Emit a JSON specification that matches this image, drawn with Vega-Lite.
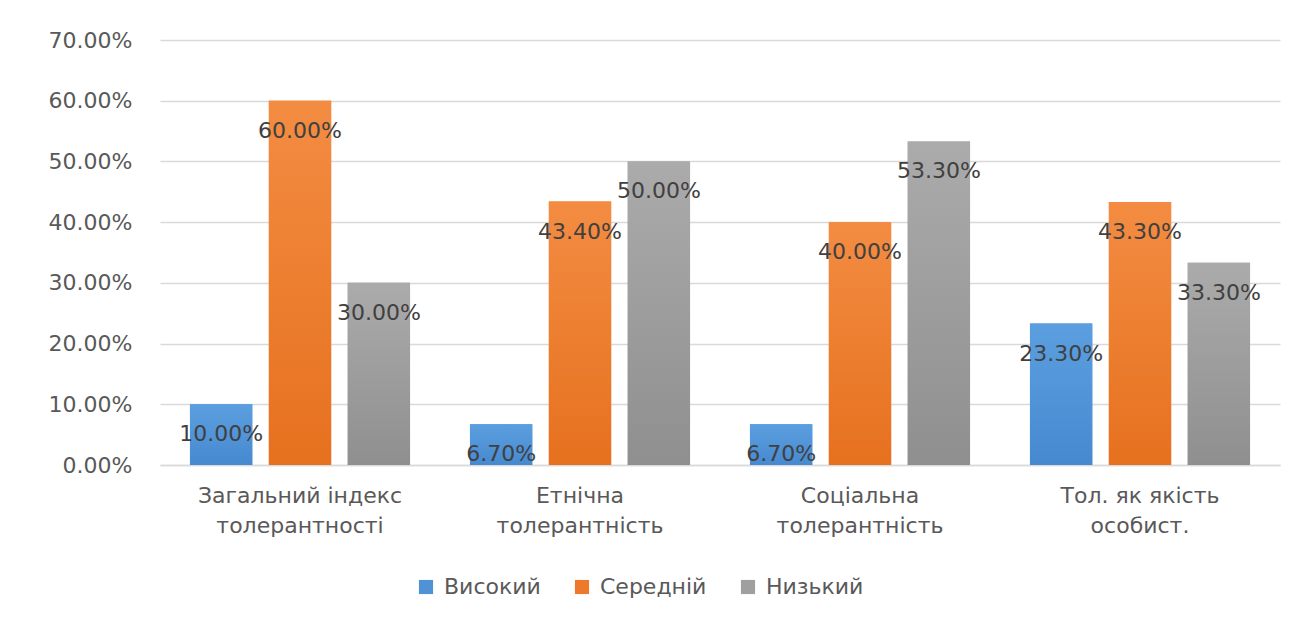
{
  "$schema": "https://vega.github.io/schema/vega-lite/v6.json",
  "autosize": {"type": "none"},
  "width": 1120,
  "height": 425,
  "padding": {"left": 160, "top": 40, "right": 26, "bottom": 160},
  "background": "white",
  "config": {
    "view": {"stroke": null},
    "font": "DejaVu Sans"
  },
  "data": {
    "values": [
      {"category": "Загальний індекс|толерантності", "level": "Високий", "value": 0.10},
      {"category": "Загальний індекс|толерантності", "level": "Середній", "value": 0.60},
      {"category": "Загальний індекс|толерантності", "level": "Низький", "value": 0.30},
      {"category": "Етнічна|толерантність", "level": "Високий", "value": 0.067},
      {"category": "Етнічна|толерантність", "level": "Середній", "value": 0.434},
      {"category": "Етнічна|толерантність", "level": "Низький", "value": 0.50},
      {"category": "Соціальна|толерантність", "level": "Високий", "value": 0.067},
      {"category": "Соціальна|толерантність", "level": "Середній", "value": 0.40},
      {"category": "Соціальна|толерантність", "level": "Низький", "value": 0.533},
      {"category": "Тол. як якість|особист.", "level": "Високий", "value": 0.233},
      {"category": "Тол. як якість|особист.", "level": "Середній", "value": 0.433},
      {"category": "Тол. як якість|особист.", "level": "Низький", "value": 0.333}
    ]
  },
  "encoding": {
    "x": {
      "field": "category",
      "type": "nominal",
      "sort": null,
      "scale": {"paddingInner": 0.214, "paddingOuter": 0.107},
      "axis": {
        "title": null,
        "labelAngle": 0,
        "labelExpr": "split(datum.label, '|')",
        "labelFontSize": 22,
        "labelLimit": 0,
        "labelColor": "#595959",
        "labelLineHeight": 30,
        "labelPadding": 20,
        "labelBaseline": "top",
        "ticks": false,
        "domainColor": "#d9d9d9",
        "domainWidth": 1.5
      }
    },
    "xOffset": {
      "field": "level",
      "type": "nominal",
      "sort": ["Високий", "Середній", "Низький"],
      "scale": {"domain": ["Високий", "Середній", "Низький"], "paddingInner": 0.21, "paddingOuter": 0}
    },
    "y": {
      "field": "value",
      "type": "quantitative",
      "scale": {"domain": [0, 0.7]},
      "axis": {
        "title": null,
        "format": ".2%",
        "values": [0, 0.1, 0.2, 0.3, 0.4, 0.5, 0.6, 0.7],
        "labelFontSize": 22,
        "labelColor": "#595959",
        "labelPadding": 28,
        "ticks": false,
        "domain": false,
        "gridColor": "#d9d9d9",
        "gridWidth": 1.5
      }
    }
  },
  "layer": [
    {
      "mark": {"type": "bar"},
      "encoding": {
        "color": {
          "field": "level",
          "type": "nominal",
          "sort": ["Високий", "Середній", "Низький"],
          "scale": {
            "domain": ["Високий", "Середній", "Низький"],
            "range": ["#4f93d6", "#ed7a2c", "#9f9f9f"]
          },
          "legend": {
            "title": null,
            "orient": "none",
            "direction": "horizontal",
            "legendX": 255,
            "legendY": 536,
            "symbolType": "square",
            "symbolSize": 200,
            "symbolStrokeWidth": 0,
            "labelFontSize": 22,
            "labelColor": "#595959",
            "labelOffset": 7,
            "columnPadding": 30
          }
        }
      }
    },
    {
      "transform": [{"filter": "datum.level === 'Високий'"}],
      "mark": {
        "type": "bar",
        "color": {"gradient": "linear", "x1": 0, "y1": 0, "x2": 0, "y2": 1,
          "stops": [{"offset": 0, "color": "#5c9fe0"}, {"offset": 1, "color": "#4689cf"}]}
      }
    },
    {
      "transform": [{"filter": "datum.level === 'Середній'"}],
      "mark": {
        "type": "bar",
        "color": {"gradient": "linear", "x1": 0, "y1": 0, "x2": 0, "y2": 1,
          "stops": [{"offset": 0, "color": "#f38c42"}, {"offset": 1, "color": "#e6711f"}]}
      }
    },
    {
      "transform": [{"filter": "datum.level === 'Низький'"}],
      "mark": {
        "type": "bar",
        "color": {"gradient": "linear", "x1": 0, "y1": 0, "x2": 0, "y2": 1,
          "stops": [{"offset": 0, "color": "#ababab"}, {"offset": 1, "color": "#8f8f8f"}]}
      }
    },
    {
      "mark": {
        "type": "text",
        "fontSize": 22,
        "color": "#404040",
        "baseline": "middle",
        "dy": 30
      },
      "encoding": {
        "text": {"field": "value", "type": "quantitative", "format": ".2%"}
      }
    }
  ]
}
